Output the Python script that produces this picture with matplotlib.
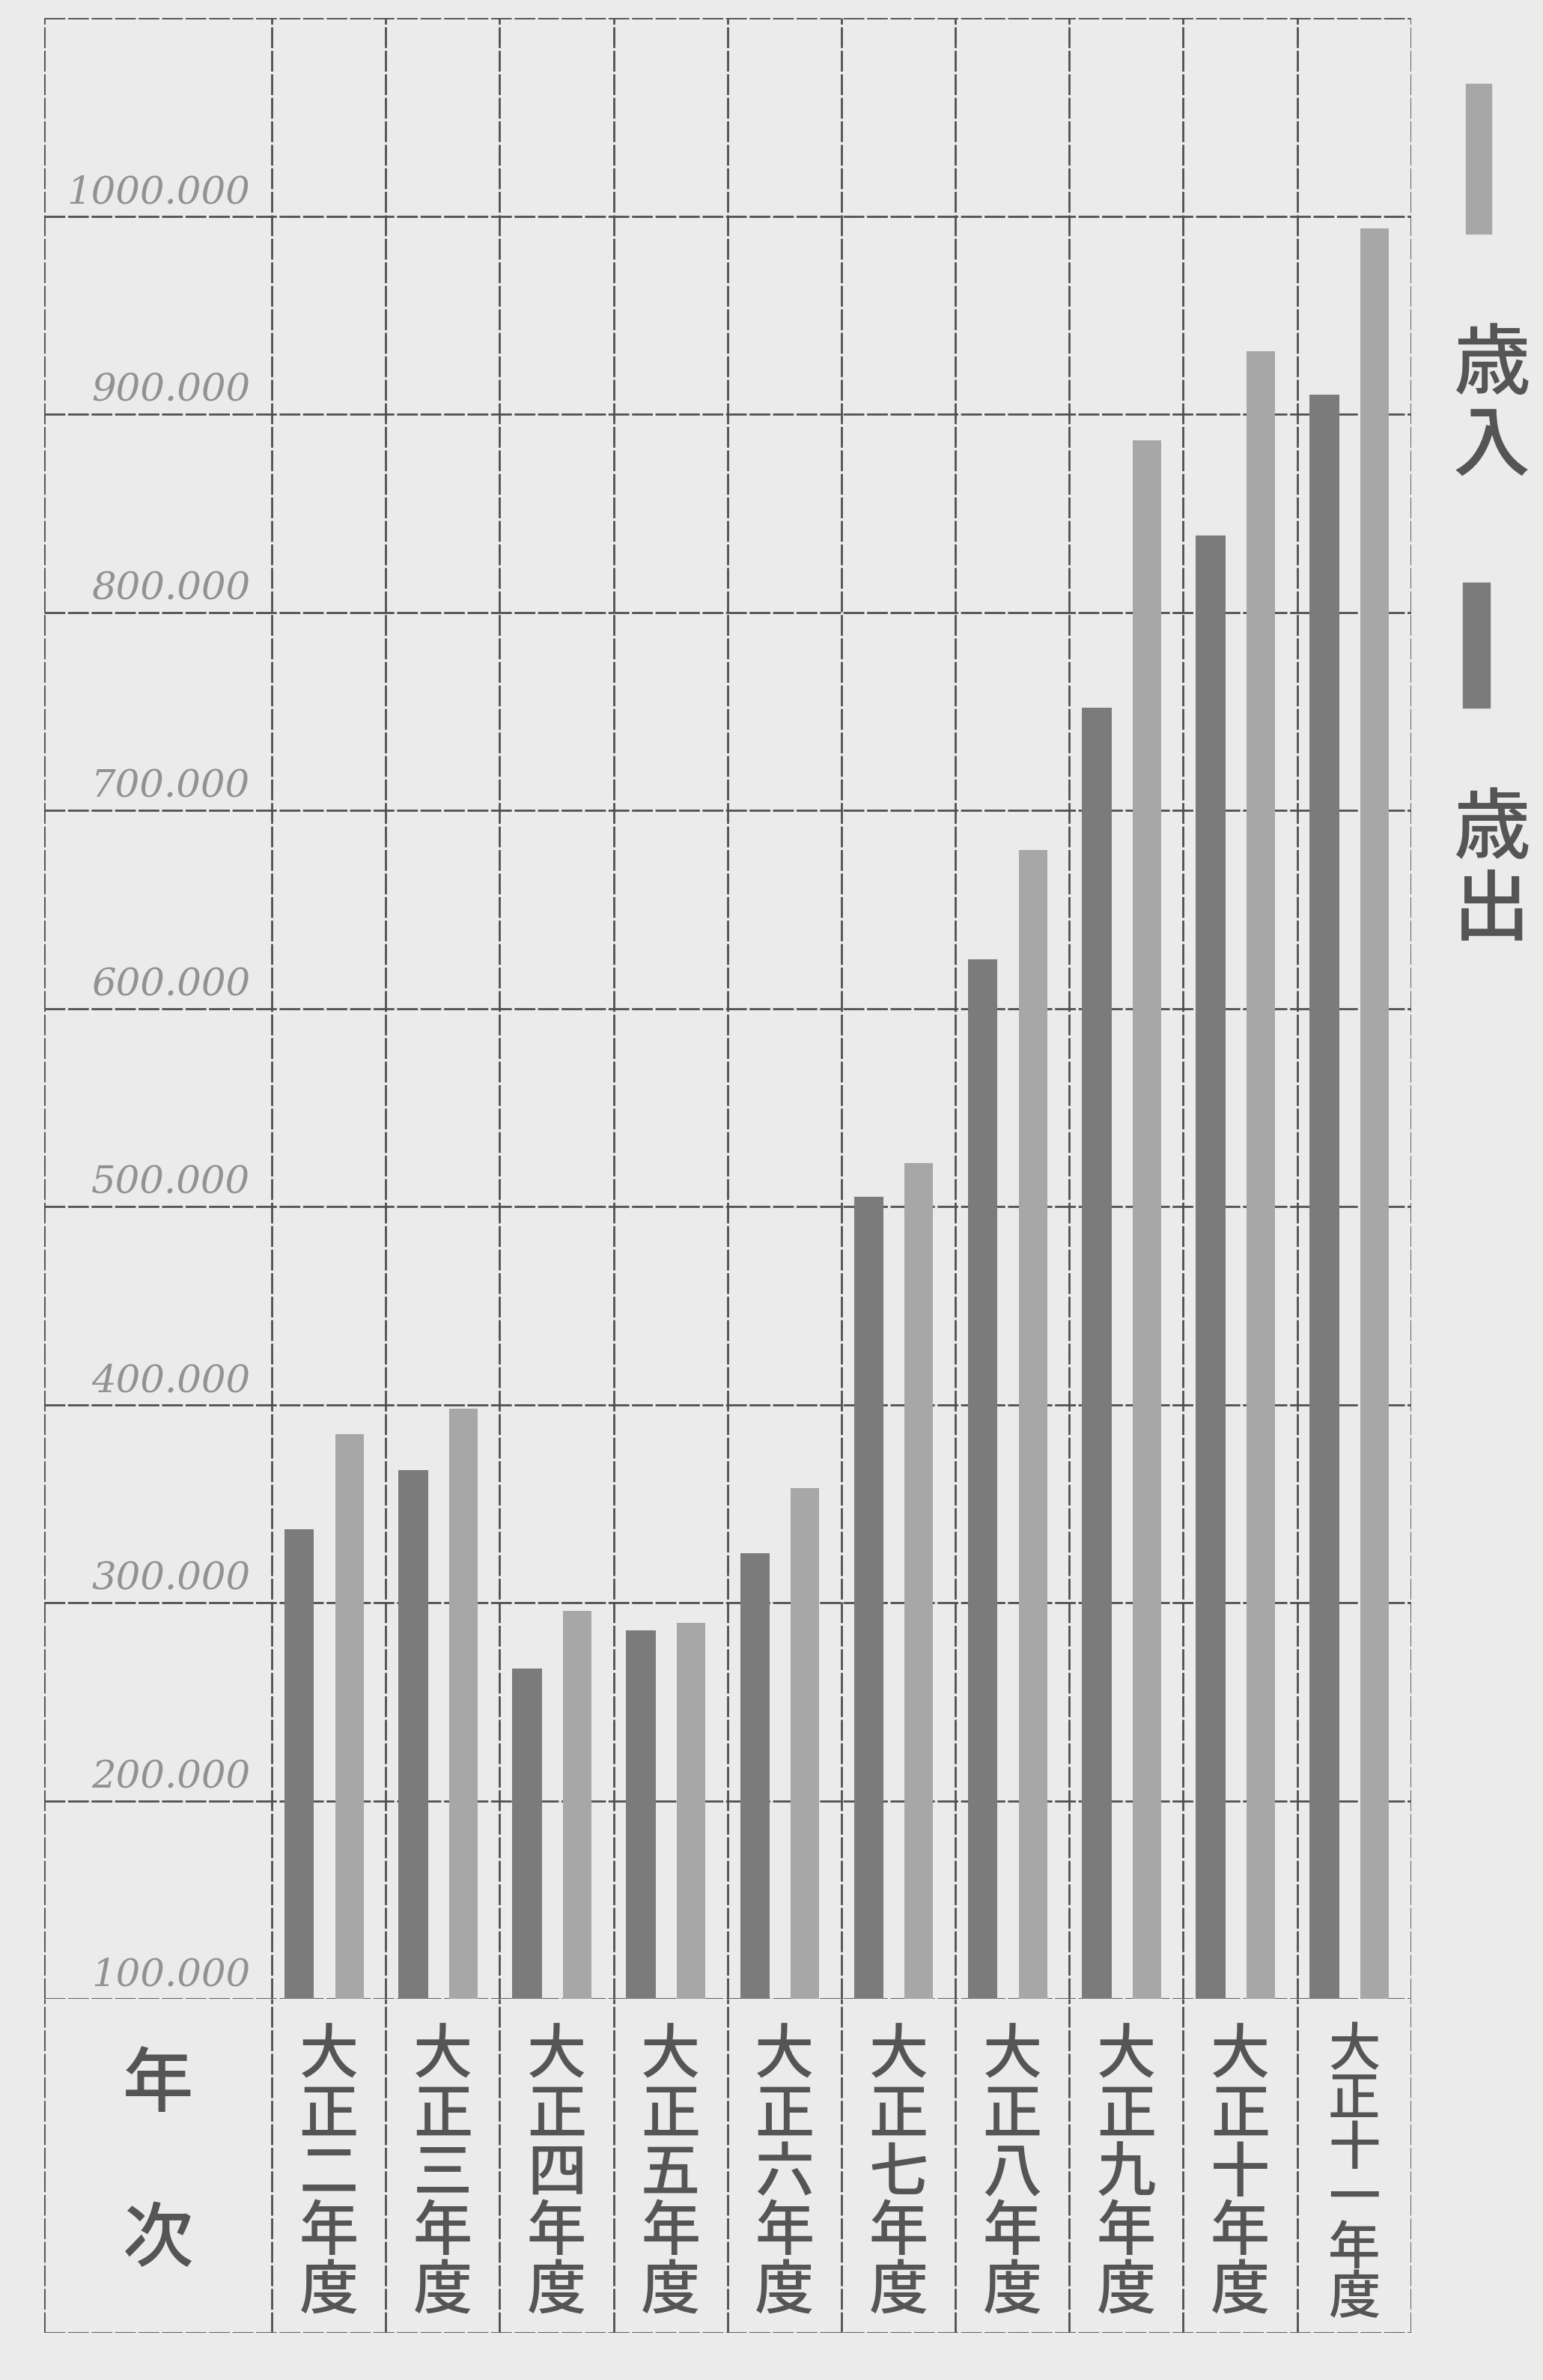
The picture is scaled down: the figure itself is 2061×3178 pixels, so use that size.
import matplotlib
matplotlib.use("Agg")
import matplotlib.pyplot as plt
from matplotlib.patches import Rectangle
import numpy as np

plt.rcParams['font.family'] = ['Noto Sans CJK JP', 'DejaVu Sans']

# ---- data (values in yen) ----
years = ["大正二年度", "大正三年度", "大正四年度", "大正五年度", "大正六年度",
         "大正七年度", "大正八年度", "大正九年度", "大正十年度", "大正十一年度"]
expenditure = [337000, 367000, 267000, 286000, 325000,
               505000, 625000, 752000, 839000, 910000]   # 歳出 (dark)
revenue = [385000, 398000, 296000, 290000, 358000,
           522000, 680000, 887000, 932000, 994000]       # 歳入 (light)
tick_values = [100000, 200000, 300000, 400000, 500000,
               600000, 700000, 800000, 900000, 1000000]
tick_labels = ["100.000", "200.000", "300.000", "400.000", "500.000",
               "600.000", "700.000", "800.000", "900.000", "1000.000"]
legend_labels = ["歳入", "歳出"]
row_title = "年次"

BG = "#ebebeb"
DARK = "#7b7b7b"
LIGHT = "#a7a7a7"
LINE = "#4f4f4f"
TEXT = "#555555"

fig = plt.figure(figsize=(20.61, 31.78), dpi=100, facecolor=BG)

L, R = 0.0285, 0.9145
B_chart, T_chart = 0.16008, 0.99235
B_row = 0.01977

ax = fig.add_axes([L, B_chart, R - L, T_chart - B_chart])
ax.set_facecolor(BG)
ax.set_xlim(-2, 10)
ax.set_ylim(100000, 1100000)
ax.axis('off')

ls = dict(color=LINE, linewidth=2.0, linestyle=(0, (10, 1.3)), zorder=1)
for v in tick_values + [1100000]:
    ax.axhline(v, **ls)
for xv in [-2] + list(range(0, 11)):
    ax.axvline(xv, **ls)

x = np.arange(len(years))
ax.bar(x + 0.24, expenditure, width=0.26, color=DARK, zorder=2)
ax.bar(x + 0.68, revenue, width=0.25, color=LIGHT, zorder=2)

for v, lab in zip(tick_values, tick_labels):
    ax.text(-0.19, v + 2500, lab, ha='right', va='bottom',
            family='DejaVu Serif', style='italic', fontsize=37,
            color='#929292', zorder=3)

# ---- label row ----
ax2 = fig.add_axes([L, B_row, R - L, B_chart - B_row])
ax2.set_facecolor(BG)
ax2.set_xlim(-2, 10)
ax2.set_ylim(0, 1)
ax2.axis('off')
for xv in [-2] + list(range(0, 11)):
    ax2.axvline(xv, **ls)
ax2.axhline(0, **ls)

for i, lab in enumerate(years):
    n = len(lab)
    fs = 57 if n <= 5 else 50
    lsp = 0.96 if n <= 5 else 0.93
    ax2.text(i + 0.5, 0.475, "\n".join(lab), ha='center', va='center',
             fontsize=fs, linespacing=lsp, color=TEXT, fontweight='medium')

ax2.text(-1.0, 0.74, row_title[0], ha='center', va='center', fontsize=68,
         color=TEXT, fontweight='medium')
ax2.text(-1.0, 0.275, row_title[1], ha='center', va='center', fontsize=68,
         color=TEXT, fontweight='medium')

# ---- legend on the right ----
fig.patches.append(Rectangle((0.9500, 0.9018), 0.0166, 0.0631,
                             transform=fig.transFigure, color=LIGHT))
fig.patches.append(Rectangle((0.9479, 0.7028), 0.0177, 0.0523,
                             transform=fig.transFigure, color=DARK))
fig.text(0.9666, 0.8290, "\n".join(legend_labels[0]), ha='center', va='center',
         fontsize=74, linespacing=1.05, color=TEXT, fontweight='medium')
fig.text(0.9666, 0.6340, "\n".join(legend_labels[1]), ha='center', va='center',
         fontsize=74, linespacing=1.05, color=TEXT, fontweight='medium')

fig.savefig("out.png", dpi=100, facecolor=BG)
